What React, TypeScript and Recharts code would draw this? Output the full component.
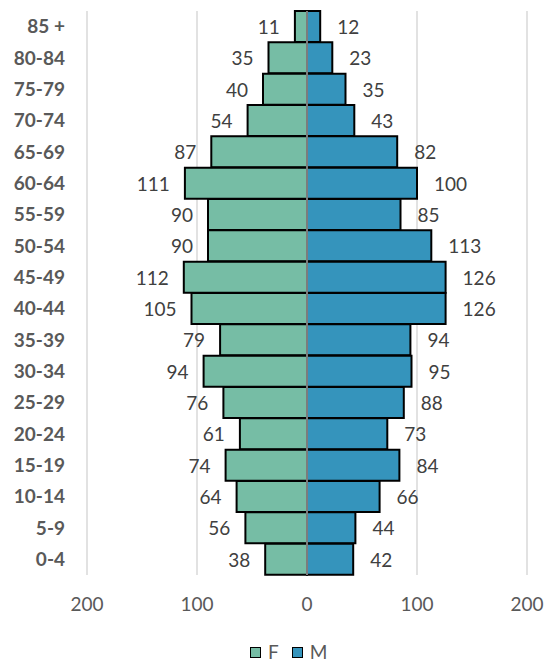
import React from 'react';
import { BarChart, Bar, XAxis, YAxis, CartesianGrid, ReferenceLine, LabelList, Legend } from 'recharts';

const ageGroups = ['85 +', '80-84', '75-79', '70-74', '65-69', '60-64', '55-59', '50-54', '45-49', '40-44', '35-39', '30-34', '25-29', '20-24', '15-19', '10-14', '5-9', '0-4'];
const femaleValues = [11, 35, 40, 54, 87, 111, 90, 90, 112, 105, 79, 94, 76, 61, 74, 64, 56, 38];
const maleValues = [12, 23, 35, 43, 82, 100, 85, 113, 126, 126, 94, 95, 88, 73, 84, 66, 44, 42];
const xTicks = [-200, -100, 0, 100, 200];

const F_COLOR = '#76BDA5';
const M_COLOR = '#3594BC';
const FONT = 'Lato, "Open Sans", sans-serif';

const data = ageGroups.map((age, i) => ({ age, F: -femaleValues[i], M: maleValues[i] }));

const makeLabel = (side: 'left' | 'right') => (props: any) => {
  const { x, y, width, height, value } = props;
  const x0 = Number(x);
  const w = Number(width);
  const left = Math.min(x0, x0 + w);
  const right = Math.max(x0, x0 + w);
  const cy = Number(y) + Number(height) / 2;
  return (
    <text
      x={side === 'left' ? left - 15 : right + 17}
      y={cy}
      textAnchor={side === 'left' ? 'end' : 'start'}
      dominantBaseline="central"
      fontFamily={FONT}
      fontSize={19}
      fill="#404040"
    >
      {Math.abs(Number(value))}
    </text>
  );
};

const LegendContent = () => (
  <div style={{ display: 'flex', alignItems: 'center', fontFamily: FONT, fontSize: 19, color: '#595959', lineHeight: '18px' }}>
    <span style={{ display: 'inline-block', width: 9, height: 9, border: '1.5px solid #000', background: F_COLOR, marginRight: 7 }} />
    <span style={{ marginRight: 13 }}>F</span>
    <span style={{ display: 'inline-block', width: 9, height: 9, border: '1.5px solid #000', background: M_COLOR, marginRight: 7 }} />
    <span>M</span>
  </div>
);

export default function App() {
  return (
    <div style={{ position: 'absolute', left: 0, top: 0, width: 547, height: 664, background: '#fff' }}>
      <BarChart
        width={547}
        height={664}
        data={data}
        layout="vertical"
        stackOffset="sign"
        barCategoryGap={0}
        margin={{ top: 11, right: 20, bottom: 0, left: 0 }}
      >
        <CartesianGrid horizontal={false} vertical={true} stroke="#d9d9d9" strokeWidth={1.5} />
        <XAxis
          type="number"
          domain={[-200, 200]}
          ticks={xTicks}
          tickFormatter={(v: number) => String(Math.abs(v))}
          axisLine={false}
          tickLine={false}
          tickSize={0}
          tickMargin={23}
          height={89}
          tick={{ fontFamily: FONT, fontSize: 19, fill: '#595959' }}
          interval={0}
        />
        <YAxis
          type="category"
          dataKey="age"
          width={87}
          axisLine={false}
          tickLine={false}
          tickSize={0}
          tickMargin={22}
          interval={0}
          tick={{ fontFamily: FONT, fontSize: 19, fontWeight: 700, fill: '#595959' }}
        />
        <Legend
          layout="horizontal"
          verticalAlign="middle"
          align="center"
          wrapperStyle={{ left: 250, top: 643, width: 'auto' }}
          content={<LegendContent />}
        />
        <Bar dataKey="F" stackId="a" fill={F_COLOR} stroke="#000" strokeWidth={2} isAnimationActive={false}>
          <LabelList dataKey="F" content={makeLabel('left')} />
        </Bar>
        <Bar dataKey="M" stackId="a" fill={M_COLOR} stroke="#000" strokeWidth={2} isAnimationActive={false}>
          <LabelList dataKey="M" content={makeLabel('right')} />
        </Bar>
        <ReferenceLine x={0} stroke="#a6a6a6" strokeWidth={1.5} />
      </BarChart>
    </div>
  );
}
